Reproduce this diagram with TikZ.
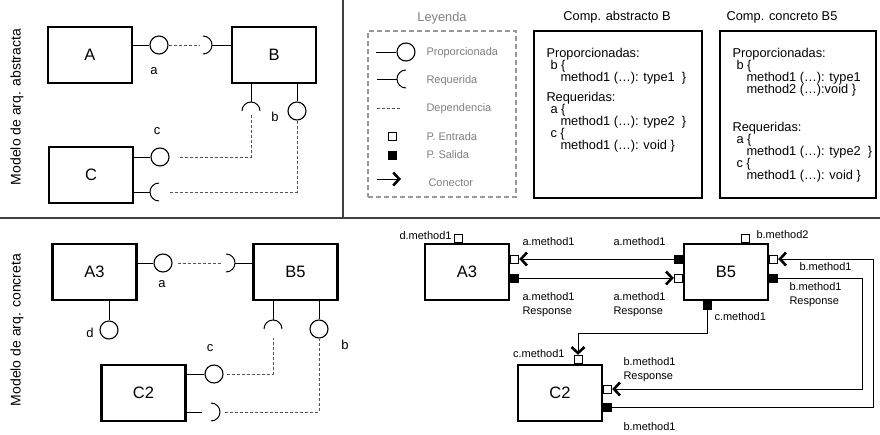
\documentclass[tikz,border=0pt]{standalone}
\usepackage{fontspec}
\setmainfont{Liberation Sans}
\usetikzlibrary{arrows.meta}
\definecolor{depgray}{HTML}{555555}
\definecolor{leggray}{HTML}{7F7F7F}
\definecolor{rulegray}{HTML}{404040}

\begin{document}
\begin{tikzpicture}[
  x=1pt, y=-1pt,
  line width=1pt,
  comp/.style={rectangle, draw, line width=2.4pt, minimum width=84pt, minimum height=56pt, font=\fontsize{16.5}{18}\selectfont},
  prov/.style={circle, draw, line width=1.1pt, minimum size=18pt, inner sep=0pt},
  dep/.style={draw=depgray, dash pattern=on 3pt off 2pt},
  lbl/.style={font=\fontsize{13}{15}\selectfont, inner sep=0pt},
  side/.style={rotate=90, font=\fontsize{14}{16}\selectfont},
  plbl/.style={font=\fontsize{11}{14}\selectfont, align=left, inner sep=0pt},
  legtxt/.style={font=\fontsize{11}{13}\selectfont, text=leggray, anchor=west, inner sep=0pt},
  title/.style={font=\fontsize{12.8}{14}\selectfont},
  spec/.style={font=\fontsize{12.8}{12}\selectfont, align=left, inner sep=0pt, anchor=north west},
  specbox/.style={rectangle, draw, line width=1.5pt, minimum height=167pt},
  inport/.style={rectangle, draw, fill=white, minimum size=8pt, inner sep=0pt},
  outport/.style={rectangle, draw, fill=black, minimum size=8pt, inner sep=0pt},
  conn/.style={-{Straight Barb[length=6pt, width=13pt, line width=2.6pt]}}
]
\useasboundingbox (0,0) rectangle (880,434);

% separators
\draw[rulegray, line width=1.2pt] (0,218) -- (880,218);
\draw[rulegray, line width=1.2pt] (343,0) -- (343,218);

% abstract architecture
\node[side] (sideabs) at (17,107) {Modelo de arq. abstracta};
\node[comp] (A) at (90,55) {A};
\node[comp] (B) at (274,55) {B};
\node[comp] (C) at (91,175) {C};

\node[prov] (pa) at (159,45) {};
\coordinate (ra) at (203,45);
\draw (A.east |- pa) -- (pa);
\draw (ra) ++(0,9) arc[start angle=-90, end angle=90, radius=9pt];
\draw (ra) ++(9,0) -- (B.west |- ra);
\draw[dep] (pa) -- ([xshift=-3pt]ra);
\node[lbl] (la) at (154,71) {a};

\coordinate (rb) at (251,111);
\node[prov] (pb) at (297,111) {};
\draw (B.south -| rb) -- ([yshift=9pt]rb);
\draw (rb) ++(-9,0) arc[start angle=180, end angle=0, radius=9pt];
\draw (B.south -| pb) -- (pb);
\node[lbl] (lb) at (275,117) {b};

\node[prov] (pc) at (160,157) {};
\draw (C.east |- pc) -- (pc);
\node[lbl] (lc) at (157,131) {c};
\coordinate (rc) at (159,192);
\draw (C.east |- rc) -- ([xshift=-9pt]rc);
\draw (rc) ++(0,-9) arc[start angle=90, end angle=270, radius=9pt];
\draw[dep] ([xshift=10pt]pc.east) -| ([yshift=-4pt]rb);
\draw[dep] ([xshift=11pt]rc) -| (pb.south);

% legend
\node[title, text=leggray] (legtitle) at (442,18) {Leyenda};
\node[draw=leggray!80, line width=1.2pt, dash pattern=on 5pt off 3pt, minimum width=148pt, minimum height=166pt] (legbox) at (442,114) {};
\node[prov] (lgprov) at (406,52) {};
\draw (lgprov.west) -- ++(-20,0);
\node[legtxt] (tprov) at (426,53) {Proporcionada};
\coordinate (lgreq) at (406,79);
\draw (lgreq) ++(0,-9) arc[start angle=90, end angle=270, radius=9pt];
\draw ([xshift=-9pt]lgreq) -- ++(-20,0);
\node[legtxt] (treq) at (426,81) {Requerida};
\draw[dep] (377,108) -- (400,108);
\node[legtxt] (tdep) at (426,109) {Dependencia};
\node[inport] (lgin) at (392,136) {};
\node[legtxt] (tin) at (426,137) {P. Entrada};
\node[outport] (lgout) at (392,155) {};
\node[legtxt] (tout) at (426,155) {P. Salida};
\draw[conn] (377,179) -- (401,179);
\node[legtxt] (tcon) at (428,183) {Conector};

% component specs
\node[title] (tabs) at (617,17) {Comp. abstracto B};
\node[specbox, minimum width=168pt] (boxabs) at (618,114.5) {};
\node[spec] (specabs) at (546,48) {Proporcionadas:\\
  \hspace*{4pt}b \{\\
  \hspace*{14pt}method1 (…): type1\ \ \}\\[8pt]
  Requeridas:\\
  \hspace*{4pt}a \{\\
  \hspace*{14pt}method1 (…): type2\ \ \}\\
  \hspace*{4pt}c \{\\
  \hspace*{14pt}method1 (…): void \}};

\node[title] (tcon) at (782,17) {Comp. concreto B5};
\node[specbox, minimum width=156pt] (boxcon) at (798,114.5) {};
\node[spec] (speccon) at (732,48) {Proporcionadas:\\
  \hspace*{4pt}b \{\\
  \hspace*{14pt}method1 (…): type1\\
  \hspace*{14pt}method2 (…):void \}\\[26pt]
  Requeridas:\\
  \hspace*{4pt}a \{\\
  \hspace*{14pt}method1 (…): type2\ \ \}\\
  \hspace*{4pt}c \{\\
  \hspace*{14pt}method1 (…): void \}};

% concrete architecture
\node[side] (sidecon) at (17,330) {Modelo de arq. concreta};
\node[comp] (A3) at (94.5,272) {A3};
\node[comp] (B5) at (295.5,272) {B5};
\node[comp] (C2) at (143.5,393) {C2};

\node[prov] (pa3) at (163,263) {};
\coordinate (ra3) at (226,263);
\draw (A3.east |- pa3) -- (pa3);
\draw (ra3) ++(0,9) arc[start angle=-90, end angle=90, radius=9pt];
\draw (ra3) ++(9,0) -- (B5.west |- ra3);
\draw[dep] ([xshift=5pt]pa3.east) -- ([xshift=-4pt]ra3);
\node[lbl] (la3) at (162,284) {a};

\node[prov] (pd3) at (109,330) {};
\draw (A3.south -| pd3) -- (pd3);
\node[lbl] (ld3) at (90,333) {d};

\coordinate (rb5) at (273,329);
\draw (B5.south -| rb5) -- ([yshift=9pt]rb5);
\draw (rb5) ++(-9,0) arc[start angle=180, end angle=0, radius=9pt];
\node[prov] (pb5) at (319,329) {};
\draw (B5.south -| pb5) -- (pb5);
\node[lbl] (lb5) at (345,345) {b};

\node[prov] (pc2) at (214,374) {};
\draw (C2.east |- pc2) -- (pc2);
\node[lbl] (lc2) at (210,348) {c};
\draw[dep] ([xshift=3pt]pc2.east) -| ([yshift=-9pt]rb5);
\coordinate (rc2) at (211,412);
\draw (C2.east |- rc2) -- ++(15,0);
\draw (rc2) ++(0,9) arc[start angle=-90, end angle=90, radius=9pt];
\draw[dep] ([xshift=14pt]rc2) -| (pb5.south);

% concrete model with ports
\node[comp] (A3r) at (467,272) {A3};
\node[comp] (B5r) at (726,272) {B5};
\node[comp] (C2r) at (560,393) {C2};

\node[inport, anchor=south] (a3din) at ([xshift=-9pt]A3r.north) {};
\node[inport, anchor=west] (a3ain) at ([yshift=13pt]A3r.east) {};
\node[outport, anchor=west] (a3aout) at ([yshift=-6pt]A3r.east) {};

\node[outport, anchor=east] (b5aout) at ([yshift=13pt]B5r.west) {};
\node[inport, anchor=east] (b5ain) at ([yshift=-6pt]B5r.west) {};
\node[inport, anchor=south] (b5bin2) at ([xshift=19pt]B5r.north) {};
\node[inport, anchor=west] (b5bin) at ([yshift=13pt]B5r.east) {};
\node[outport, anchor=west] (b5bout) at ([yshift=-6pt]B5r.east) {};
\node[outport, anchor=north] (b5cout) at ([xshift=-19pt]B5r.south) {};

\node[inport, anchor=south] (c2cin) at ([xshift=18pt]C2r.north) {};
\node[inport, anchor=west] (c2bin) at ([yshift=4pt]C2r.east) {};
\node[outport, anchor=west] (c2bout) at ([yshift=-14pt]C2r.east) {};

\coordinate (outerx) at (873,0);
\coordinate (innerx) at (862,0);
\draw[conn] (b5aout.west) -- (a3ain.east);
\draw[conn] (a3aout.east) -- (b5ain.west);
\draw[conn] (b5cout.south) -- ++(0,23) -| (c2cin.north);
\draw[conn] (c2bout.east) -| (outerx |- b5bin) -- (b5bin.east);
\draw[conn] (b5bout.east) -| (innerx |- c2bin) -- (c2bin.east);

\node[plbl, anchor=east] (ldm) at (452,236) {d.method1};
\node[plbl, anchor=west] (lam1) at (522,242) {a.method1};
\node[plbl, anchor=west] (lam2) at (613,242) {a.method1};
\node[plbl, anchor=west] (lar1) at (522,304.5) {a.method1\\Response};
\node[plbl, anchor=west] (lar2) at (613,304.5) {a.method1\\Response};
\node[plbl, anchor=west] (lbm2) at (756,235) {b.method2};
\node[plbl, anchor=west] (lbm1) at (799,267) {b.method1};
\node[plbl, anchor=west] (lbr1) at (789,295) {b.method1\\Response};
\node[plbl, anchor=west] (lcm1) at (714,317) {c.method1};
\node[plbl, anchor=east] (lcm2) at (565,354) {c.method1};
\node[plbl, anchor=west] (lbr2) at (623,370) {b.method1\\Response};
\node[plbl, anchor=west] (lbm3) at (623,427) {b.method1};
\end{tikzpicture}
\end{document}
